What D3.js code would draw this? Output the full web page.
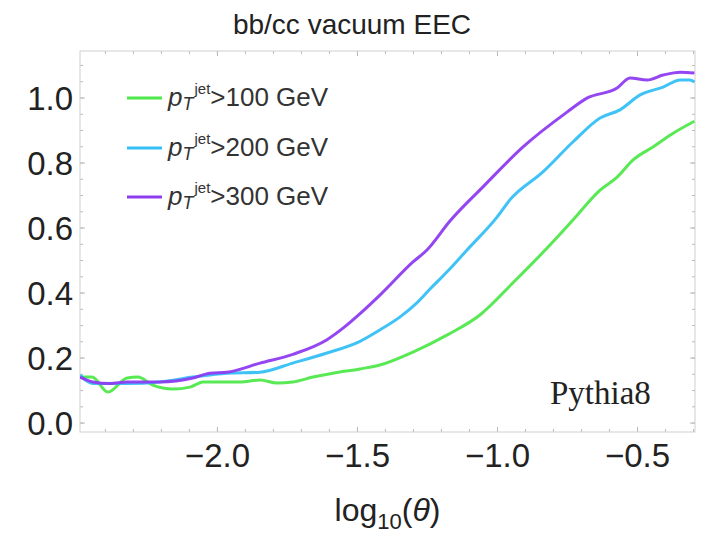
<!DOCTYPE html>
<html>
<head>
<meta charset="utf-8">
<script src="https://cdn.jsdelivr.net/npm/d3@7"></script>
<style>
  body { margin: 0; background: #fff; }
  svg { display: block; }
</style>
</head>
<body>
<div id="chart"></div>
<script>
// series data (x = log10(theta), y = EEC)
var pt100X = [-2.489, -2.446, -2.389, -2.321, -2.282, -2.229, -2.157, -2.096, -2.05, -1.989, -1.918, -1.846, -1.786, -1.729, -1.657, -1.586, -1.489, -1.418, -1.3, -1.179, -1.061, -0.943, -0.821, -0.729, -0.632, -0.571, -0.514, -0.443, -0.371, -0.295]
var pt100Y = [0.14, 0.14, 0.094, 0.137, 0.14, 0.115, 0.103, 0.109, 0.125, 0.125, 0.125, 0.131, 0.122, 0.125, 0.14, 0.152, 0.165, 0.177, 0.217, 0.269, 0.331, 0.43, 0.537, 0.623, 0.715, 0.755, 0.808, 0.848, 0.89, 0.927]

var pt200X = [-2.489, -2.443, -2.321, -2.204, -2.086, -1.964, -1.846, -1.729, -1.607, -1.489, -1.418, -1.346, -1.29, -1.24, -1.179, -1.107, -1.0, -0.954, -0.836, -0.729, -0.632, -0.561, -0.489, -0.407, -0.346, -0.311, -0.295]
var pt200Y = [0.146, 0.12, 0.12, 0.125, 0.14, 0.152, 0.155, 0.183, 0.214, 0.25, 0.285, 0.325, 0.365, 0.41, 0.463, 0.531, 0.632, 0.685, 0.771, 0.863, 0.937, 0.962, 1.008, 1.032, 1.054, 1.054, 1.048]

var pt300X = [-2.489, -2.443, -2.382, -2.321, -2.204, -2.086, -2.025, -1.964, -1.846, -1.729, -1.607, -1.543, -1.489, -1.418, -1.3, -1.25, -1.168, -1.05, -0.907, -0.75, -0.679, -0.571, -0.525, -0.464, -0.407, -0.346, -0.295]
var pt300Y = [0.14, 0.125, 0.12, 0.125, 0.125, 0.137, 0.152, 0.155, 0.183, 0.21, 0.255, 0.295, 0.335, 0.392, 0.494, 0.531, 0.62, 0.725, 0.848, 0.955, 0.998, 1.029, 1.06, 1.054, 1.069, 1.078, 1.075]

var seriesNames = ["100", "200", "300"]
var seriesColors = ["#4fe84b", "#35c0f6", "#8d3cf0"]

var xTicks = [-2.0, -1.5, -1.0, -0.5]
var yTicks = [0.0, 0.2, 0.4, 0.6, 0.8, 1.0]

var W = 703, H = 534
var fLeft = 80, fRight = 695, fTop = 51, fBottom = 432

var x = d3.scaleLinear().domain([-2.489, -0.293]).range([fLeft, fRight])
var y = d3.scaleLinear().domain([-0.029, 1.143]).range([fBottom, fTop])

var svg = d3.select("#chart").append("svg").attr("width", W).attr("height", H)
var sans = "'Liberation Sans', Arial, Helvetica, sans-serif"

//minor ticks
var xMinor = d3.range(-2.4, -0.29, 0.1).map(function (v) { return +v.toFixed(2) })
var yMinor = d3.range(0, 1.13, 0.05).map(function (v) { return +v.toFixed(2) })

function tickAxis(axis, tr) {
    var g = svg.append("g").attr("transform", tr).call(axis)
    g.select(".domain").remove()
    g.selectAll("line").attr("stroke", "#b8b8b8").attr("stroke-width", 1)
    return g
}

// bottom / top / left / right ticks, pointing inside
tickAxis(d3.axisBottom(x).tickValues(xMinor).tickSize(-3).tickFormat(""), "translate(0," + fBottom + ")")
tickAxis(d3.axisTop(x).tickValues(xMinor).tickSize(-3).tickFormat(""), "translate(0," + fTop + ")")
tickAxis(d3.axisLeft(y).tickValues(yMinor).tickSize(-3).tickFormat(""), "translate(" + fLeft + ",0)")
tickAxis(d3.axisRight(y).tickValues(yMinor).tickSize(-3).tickFormat(""), "translate(" + fRight + ",0)")
tickAxis(d3.axisTop(x).tickValues(xTicks).tickSize(-5).tickFormat(""), "translate(0," + fTop + ")")
tickAxis(d3.axisRight(y).tickValues(yTicks).tickSize(-5).tickFormat(""), "translate(" + fRight + ",0)")

var gx = tickAxis(d3.axisBottom(x).tickValues(xTicks).tickSize(-5).tickPadding(12)
    .tickFormat(function (d) { return d3.format(".1f")(d).replace("-", "\u2212") }), "translate(0," + fBottom + ")")
gx.selectAll("text").attr("font-family", sans).attr("font-size", 33).attr("fill", "#222")
    .attr("dy", "0.71em")

var gy = tickAxis(d3.axisLeft(y).tickValues(yTicks).tickSize(-5).tickPadding(7)
    .tickFormat(d3.format(".1f")), "translate(" + fLeft + ",0)")
gy.selectAll("text").attr("font-family", sans).attr("font-size", 33).attr("fill", "#222")
    .attr("dy", "0.36em")

// frame
svg.append("rect").attr("x", fLeft).attr("y", fTop).attr("width", fRight - fLeft).attr("height", fBottom - fTop)
    .attr("fill", "none").attr("stroke", "#cfcfcf").attr("stroke-width", 1)

// curves
var allX = [pt100X, pt200X, pt300X]
var allY = [pt100Y, pt200Y, pt300Y]
var line = d3.line().x(function (d) { return x(d[0]) }).y(function (d) { return y(d[1]) })
    .curve(d3.curveMonotoneX)
svg.append("clipPath").attr("id", "clip").append("rect")
    .attr("x", fLeft).attr("y", fTop).attr("width", fRight - fLeft).attr("height", fBottom - fTop)
for (var i = 0; i < 3; i++) {
    var pts = d3.zip(allX[i], allY[i])
    svg.append("path").datum(pts).attr("d", line).attr("clip-path", "url(#clip)")
        .attr("fill", "none").attr("stroke", seriesColors[i]).attr("stroke-width", 3)
        .attr("stroke-linejoin", "round").attr("opacity", 0.95)
}

// legend
var legY = [98, 148, 197]
for (var j = 0; j < 3; j++) {
    svg.append("line").attr("x1", 127).attr("x2", 162).attr("y1", legY[j]).attr("y2", legY[j])
        .attr("stroke", seriesColors[j]).attr("stroke-width", 3)
    var t = svg.append("text").attr("x", 168).attr("y", legY[j] + 8)
        .attr("font-family", sans).attr("font-size", 26).attr("fill", "#333")
    t.append("tspan").attr("font-style", "italic").text("p")
    t.append("tspan").attr("font-style", "italic").attr("font-size", 18).attr("dy", 4).text("T")
    t.append("tspan").attr("font-size", 15).attr("dy", -16).attr("dx", 1).text("jet")
    t.append("tspan").attr("dy", 12).text(">" + seriesNames[j] + " GeV")
}

// title
svg.append("text").attr("x", 352).attr("y", 34).attr("text-anchor", "middle")
    .attr("font-family", sans).attr("font-size", 28).attr("fill", "#222").text("bb/cc vacuum EEC")

// x label
var xl = svg.append("text").attr("x", (fLeft + fRight) / 2).attr("y", 521).attr("text-anchor", "middle")
    .attr("font-family", sans).attr("font-size", 32).attr("fill", "#222")
xl.append("tspan").text("log")
xl.append("tspan").attr("font-size", 22).attr("dy", 8).text("10")
xl.append("tspan").attr("dy", -8).text("(")
xl.append("tspan").attr("font-style", "italic").text("\u03b8")
xl.append("tspan").text(")")

// generator label
svg.append("text").attr("x", 550).attr("y", 404)
    .attr("font-family", "'Liberation Serif', 'Times New Roman', serif").attr("font-size", 33)
    .attr("fill", "#222").text("Pythia8")
</script>
</body>
</html>
